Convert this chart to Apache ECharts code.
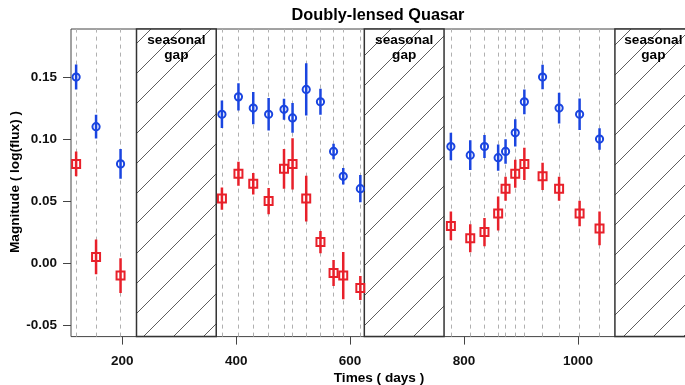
<!DOCTYPE html>
<html>
<head>
<meta charset="utf-8">
<script src="https://cdn.jsdelivr.net/npm/echarts@6/dist/echarts.min.js"></script>
<style>html,body{margin:0;padding:0;background:#fff}#c{width:685px;height:385px}</style>
</head>
<body>
<div id="c"></div>
<script>
const times = [119,154,197, 375,404,430,457,484,499,523,548,571,588,618, 777,811,836,860,873,890,906,938,967,1003,1038];
const blueMag = [0.150,0.110,0.080, 0.120,0.134,0.125,0.120,0.124,0.117,0.140,0.130,0.090,0.070,0.060, 0.094,0.087,0.094,0.085,0.090,0.105,0.130,0.150,0.125,0.120,0.100];
const blueErr = [0.010,0.0095,0.012, 0.011,0.011,0.013,0.013,0.0085,0.012,0.021,0.0105,0.0063,0.0066,0.011, 0.011,0.012,0.0093,0.0106,0.0098,0.011,0.010,0.0098,0.0124,0.0126,0.0087];
const redMag = [0.080,0.005,-0.010, 0.052,0.072,0.064,0.050,0.076,0.080,0.052,0.017,-0.008,-0.010,-0.020, 0.030,0.020,0.025,0.040,0.060,0.072,0.080,0.070,0.060,0.040,0.028];
const redErr = [0.010,0.014,0.014, 0.009,0.0097,0.0086,0.0106,0.016,0.0206,0.0185,0.009,0.0105,0.019,0.0097, 0.0116,0.0113,0.0113,0.0137,0.0097,0.0113,0.013,0.011,0.0097,0.0103,0.0136];
const gaps = [[225,365],[625,765],[1065,1205]];
const xTicks = [200,400,600,800,1000];
const yTicks = [-0.05,0,0.05,0.10,0.15];
const gapLabel = 'seasonal\ngap';

const BLUE = '#1a45e0', RED = '#e8202a';
const FONT = '"Liberation Sans", Arial, sans-serif';

// hatch pattern
const tile = document.createElement('canvas');
tile.width = 30; tile.height = 30;
const g = tile.getContext('2d');
g.fillStyle = '#fff'; g.fillRect(0,0,30,30);
g.strokeStyle = '#333'; g.lineWidth = 0.8;
[[-15,15,15,-15],[0,30,30,0],[15,45,45,15]].forEach(l=>{g.beginPath();g.moveTo(l[0],l[1]);g.lineTo(l[2],l[3]);g.stroke();});

function errSeries(vals, errs, color, shape){
  return {
    type: 'custom', z: 5, clip: true,
    data: times.map((t,i)=>[t, vals[i], errs[i]]),
    renderItem: function(params, api){
      const x = api.value(0), v = api.value(1), e = api.value(2);
      const p = api.coord([x, v]), a = api.coord([x, v+e]), b = api.coord([x, v-e]);
      const children = [{type:'line', shape:{x1:p[0], y1:a[1], x2:p[0], y2:b[1]}, style:{stroke:color, lineWidth:2.5}}];
      if (shape === 'circle') children.push({type:'circle', shape:{cx:p[0], cy:p[1], r:3.6}, style:{fill:'rgba(255,255,255,0)', stroke:color, lineWidth:2}});
      else children.push({type:'rect', shape:{x:p[0]-4, y:p[1]-4, width:8, height:8}, style:{fill:'rgba(255,255,255,0)', stroke:color, lineWidth:2}});
      return {type:'group', children};
    }
  };
}

const chart = echarts.init(document.getElementById('c'), null, {renderer:'canvas'});
chart.setOption({
  animation: false,
  grid: {left: 71, top: 29, width: 620.8, height: 307.6, show: true, borderColor: '#444', borderWidth: 1, backgroundColor: 'transparent', containLabel: false, outerBoundsMode: 'none'},
  xAxis: {
    type: 'value', min: 110, max: 1200,
    axisLine: {show: false, onZero: false},
    splitLine: {show: false},
    axisTick: {show: true, length: 8, customValues: xTicks, lineStyle: {color: '#444'}},
    axisLabel: {customValues: xTicks, margin: 18, fontFamily: FONT, fontWeight: 'bold', fontSize: 13.5, color: '#111', formatter: v => String(v)}
  },
  yAxis: {
    type: 'value', min: -0.0592, max: 0.1887,
    axisLine: {show: false, onZero: false},
    splitLine: {show: false},
    axisTick: {show: true, length: 8, customValues: yTicks, lineStyle: {color: '#444'}},
    axisLabel: {customValues: yTicks, margin: 14, fontFamily: FONT, fontWeight: 'bold', fontSize: 13.5, color: '#111',
      formatter: v => v.toFixed(2)}
  },
  graphic: [
    {type:'text', x: 378, y: 16, style:{text:'Doubly-lensed Quasar', font:'bold 16.3px '+FONT, fill:'#000', textAlign:'center', textVerticalAlign:'middle'}},
    {type:'text', x: 379, y: 378, style:{text:'Times ( days )', font:'bold 13.6px '+FONT, fill:'#000', textAlign:'center', textVerticalAlign:'middle'}},
    {type:'text', x: 15, y: 182, rotation: Math.PI/2, style:{text:'Magnitude ( log(flux) )', font:'bold 13.6px '+FONT, fill:'#000', textAlign:'center', textVerticalAlign:'middle'}}
  ],
  series: [
    {
      type: 'line', data: [], z: 1, silent: true,
      markArea: {
        silent: true,
        itemStyle: {color: {image: tile, repeat: 'repeat'}, borderColor: '#333', borderWidth: 1.5},
        label: {show: true, position: 'insideTop', distance: 4, formatter: gapLabel, fontFamily: FONT, fontWeight: 'bold', fontSize: 13.6, lineHeight: 15, color: '#000', align: 'center'},
        data: gaps.map(gp => [{xAxis: gp[0]}, {xAxis: gp[1]}])
      }
    },
    {
      type: 'line', data: [], z: 2, silent: true,
      markLine: {
        silent: true, symbol: 'none', animation: false,
        label: {show: false},
        lineStyle: {color: '#b0b0b0', width: 1, type: [4, 4], opacity: 1},
        emphasis: {disabled: true},
        data: times.map(t => ({xAxis: t}))
      }
    },
    errSeries(redMag, redErr, RED, 'rect'),
    errSeries(blueMag, blueErr, BLUE, 'circle')
  ]
});
</script>
</body>
</html>
